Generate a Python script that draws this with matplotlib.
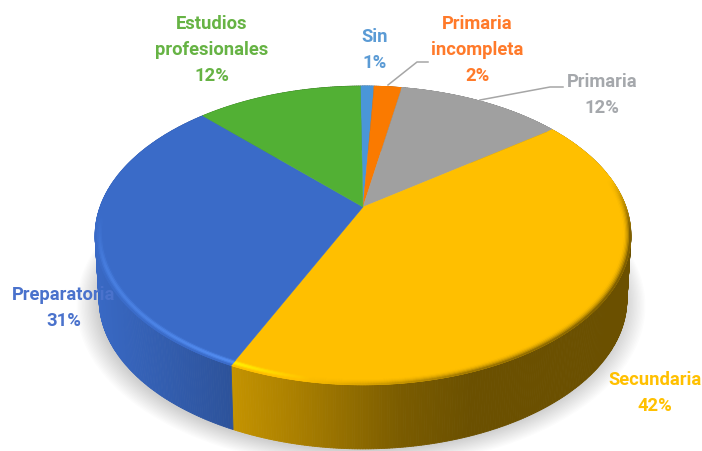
import numpy as np
import matplotlib
matplotlib.use("Agg")
import matplotlib.pyplot as plt
from matplotlib.collections import PolyCollection
from matplotlib.colors import to_rgb

# Education level shares, clockwise from twelve o'clock
categories = ["Sin", "Primaria\nincompleta", "Primaria", "Secundaria", "Preparatoria", "Estudios\nprofesionales"]
shares = [1, 2, 12, 42, 31, 12]
slice_colors = ["#4a96d8", "#fa7a00", "#a0a0a0", "#ffbf00", "#3a6bc8", "#52b034"]
rim_colors = ["#4a96d8", "#fa7a00", "#a0a0a0", "#fff000", "#5590f5", "#52b034"]
text_colors = ["#5b9bd5", "#ff7a2a", "#a5a8ac", "#ffc000", "#4a72cc", "#66b344"]

# Label anchor of each category (centre of the text block, pixels)
label_pos = [(375, 50), (477, 50), (602, 95), (655, 393), (64, 308), (212, 50)]

# Pie geometry in pixels
CX, CY = 363.0, 207.0
TILT = 0.1905
RX, RY = 263.0, 144.0
DEPTH = 64.0
START = np.deg2rad(-0.7)
FONT = ["Roboto"]

fig = plt.figure(figsize=(7.02, 4.51), dpi=100)
ax = fig.add_axes([0, 0, 1, 1])
ax.set_xlim(0, 702)
ax.set_ylim(451, 0)
ax.axis("off")


def project(theta, r=1.0, drop=0.0):
    """Perspective projection of a disc point; theta runs clockwise from the top."""
    u, v = r * np.sin(theta), r * np.cos(theta)
    den = 1 + TILT * v
    scale = 1 - 0.015 * drop / DEPTH
    return CX + scale * RX * u / den, CY - RY * v / den + drop


# Soft ground shadow beneath the disc
theta_all = np.linspace(0, 2 * np.pi, 361)
for i in range(16):
    x, y = project(theta_all, 1.0 + 0.005 * i, DEPTH + 1.0)
    ax.fill(x - 2, y + 1, color="#000000", alpha=0.012, lw=0, zorder=1)

edges = START + 2 * np.pi * np.concatenate([[0], np.cumsum(shares)]) / np.sum(shares)


def wall_shade(x):
    return np.interp(x, [95, 238, 300, 400, 470, 640], [0.98, 0.76, 0.66, 0.48, 0.42, 0.42])


# Outer wall, one thin strip per angular step
polys, cols = [], []
for a0, a1, c in zip(edges[:-1], edges[1:], slice_colors):
    base = np.array(to_rgb(c))
    th = np.linspace(a0, a1, max(int((a1 - a0) * 120), 3))
    for t0, t1 in zip(th[:-1], th[1:]):
        x0, y0 = project(t0)
        x1, y1 = project(t1)
        x2, y2 = project(t1, 1.0, DEPTH)
        x3, y3 = project(t0, 1.0, DEPTH)
        polys.append([(x0, y0), (x1, y1), (x2, y2), (x3, y3)])
        cols.append(base * wall_shade(0.5 * (x0 + x1)))
ax.add_collection(PolyCollection(polys, facecolors=cols, edgecolors=cols, linewidths=0.6, zorder=2))

# Top face of each slice
for a0, a1, c in zip(edges[:-1], edges[1:], slice_colors):
    th = np.linspace(a0, a1, 200)
    x, y = project(th)
    ax.fill(np.r_[CX, x], np.r_[CY, y], color=c, lw=0.3, zorder=3)

# Bevelled rim along the near side of the top face
polys, cols = [], []
rings = np.linspace(0.972, 1.0, 7)
for a0, a1, c, rc in zip(edges[:-1], edges[1:], slice_colors, rim_colors):
    base, high = np.array(to_rgb(c)), np.array(to_rgb(rc))
    th = np.linspace(a0, a1, max(int((a1 - a0) * 120), 3))
    for r0, r1 in zip(rings[:-1], rings[1:]):
        pos = (0.5 * (r0 + r1) - rings[0]) / (rings[-1] - rings[0])
        glow = np.sin(np.pi * min(pos * 1.05, 1.0)) ** 1.5
        for t0, t1 in zip(th[:-1], th[1:]):
            x0, y0 = project(t0, r0)
            x1, y1 = project(t1, r0)
            x2, y2 = project(t1, r1)
            x3, y3 = project(t0, r1)
            xm = 0.5 * (x0 + x1)
            near = np.clip((np.cos(t0) + 0.05) / -0.35, 0, 1)
            if near == 0 and xm < 363:
                continue
            light = np.interp(xm, [95, 240, 310], [0.5, 1.0, 0.0]) * near
            fade = np.clip((0.2 - np.cos(t0)) / 0.35, 0, 1)
            dark = np.interp(xm, [300, 470, 630], [0.0, 0.45, 0.6]) * pos ** 2 * fade
            col = base + (high - base) * light * glow
            col = col * (1 - dark)
            polys.append([(x0, y0), (x1, y1), (x2, y2), (x3, y3)])
            cols.append(col)
ax.add_collection(PolyCollection(polys, facecolors=cols, edgecolors=cols, linewidths=0.5, zorder=4))

# Leader lines of the two labels set away from their slices
ax.plot([388, 417, 428], [85, 62, 62], color="#a6a6a6", lw=1.1, zorder=5)
ax.plot([480, 550, 563], [100, 87, 87], color="#a6a6a6", lw=1.1, zorder=5)

# Category and percentage labels
for name, val, (lx, ly), tc in zip(categories, shares, label_pos, text_colors):
    ax.text(lx, ly, f"{name}\n{val}%", color=tc, ha="center", va="center", family=FONT,
            fontsize=13.2, fontweight="bold", linespacing=1.6, zorder=6)

fig.savefig("out.png", dpi=100)
